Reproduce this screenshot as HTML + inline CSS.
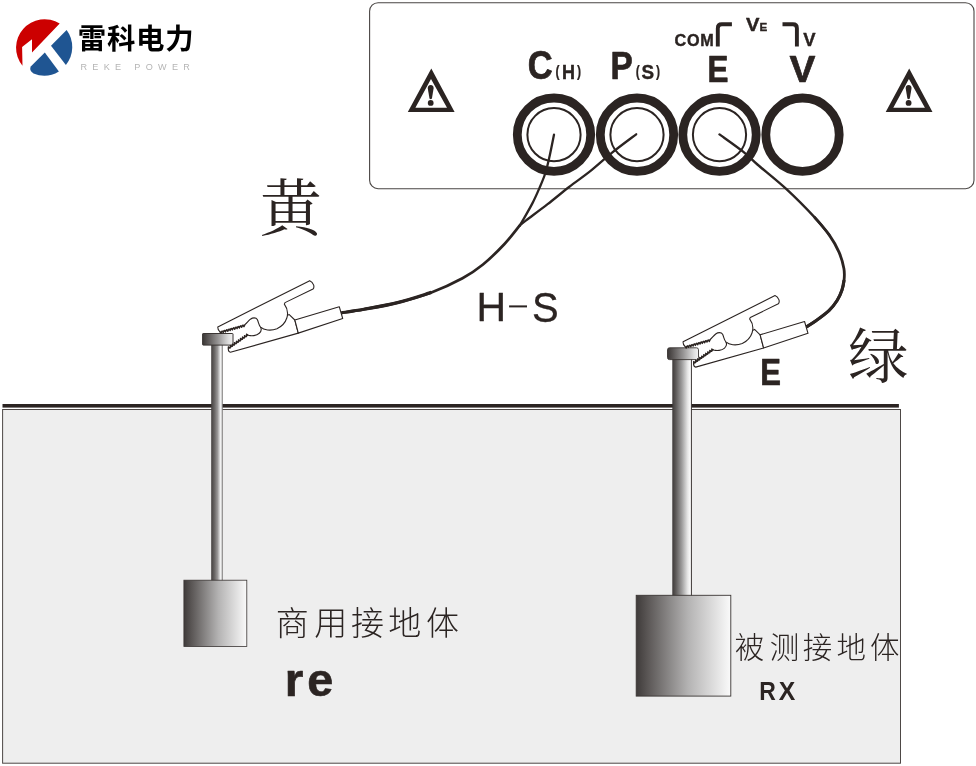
<!DOCTYPE html>
<html lang="zh">
<head>
<meta charset="utf-8">
<title>接地电阻测试接线图</title>
<style>
html,body{margin:0;padding:0;background:#fff;}
body{width:976px;height:766px;overflow:hidden;font-family:"Liberation Sans",sans-serif;}
svg{display:block;position:absolute;left:0;top:0;will-change:transform;}
text{font-family:"Liberation Sans",sans-serif;}
.b{font-weight:bold;}
</style>
</head>
<body>
<svg width="976" height="766" viewBox="0 0 976 766">
<defs>
<linearGradient id="gcap" x1="0" x2="1" y1="0" y2="0"><stop offset="0" stop-color="#3a3635"/><stop offset="0.15" stop-color="#555150"/><stop offset="0.5" stop-color="#959393"/><stop offset="0.85" stop-color="#dedede"/><stop offset="1" stop-color="#f4f4f4"/></linearGradient>
<linearGradient id="gblk" x1="0" x2="1" y1="0" y2="0"><stop offset="0" stop-color="#3f3b3a"/><stop offset="0.12" stop-color="#5a5655"/><stop offset="0.55" stop-color="#b4b3b3"/><stop offset="1" stop-color="#fafafa"/></linearGradient>
<linearGradient id="gstemL" x1="0" x2="1" y1="0" y2="0"><stop offset="0" stop-color="#433f3e"/><stop offset="0.3" stop-color="#6c6968"/><stop offset="0.55" stop-color="#9a9898"/><stop offset="0.72" stop-color="#d4d4d4"/><stop offset="0.81" stop-color="#f4f4f4"/><stop offset="0.89" stop-color="#cfcfcf"/><stop offset="1" stop-color="#696665"/></linearGradient>
<linearGradient id="gstemR" x1="0" x2="1" y1="0" y2="0"><stop offset="0" stop-color="#3d3938"/><stop offset="0.2" stop-color="#605d5c"/><stop offset="0.5" stop-color="#9e9d9d"/><stop offset="0.8" stop-color="#e6e6e6"/><stop offset="0.95" stop-color="#fdfdfd"/><stop offset="1" stop-color="#ffffff"/></linearGradient>
</defs>
<rect x="2.6" y="409.5" width="897.9" height="353.7" fill="#eeeeee" stroke="#4d4745" stroke-width="1"/>
<rect x="2.5" y="404.0" width="896.4" height="3.6" fill="#2b2422"/>
<rect x="369.6" y="2.7" width="604.4" height="186" rx="8.5" ry="8.5" fill="#fff" stroke="#4a4644" stroke-width="1.1"/>
<g fill="#2b2422"><path fill-rule="evenodd" d="M431.3 68.6 L407.8 112 L454.6 112 Z M431 78.9 L415.4 107.7 L447 107.7 Z"/><path d="M430.7 85 C432.7 85 433.8 86.5 433.6 88.5 L432 98 C431.7 99.6 429.7 99.6 429.4 98 L427.8 88.5 C427.6 86.5 428.7 85 430.7 85 Z"/><circle cx="430.7" cy="102.9" r="2.9"/></g>
<g fill="#2b2422"><path fill-rule="evenodd" d="M909.2 68.6 L885.7 112 L932.5 112 Z M908.9 78.9 L893.3 107.7 L924.9 107.7 Z"/><path d="M908.6 85 C910.6 85 911.7 86.5 911.5 88.5 L909.9 98 C909.6 99.6 907.6 99.6 907.3 98 L905.7 88.5 C905.5 86.5 906.6 85 908.6 85 Z"/><circle cx="908.6" cy="102.9" r="2.9"/></g>
<circle cx="554" cy="134.7" r="36.7" fill="#fff" stroke="#2b2422" stroke-width="8.8"/>
<circle cx="554" cy="134.7" r="26.6" fill="none" stroke="#2b2422" stroke-width="2.0"/>
<circle cx="637" cy="134.7" r="36.7" fill="#fff" stroke="#2b2422" stroke-width="8.8"/>
<circle cx="637" cy="134.7" r="26.6" fill="none" stroke="#2b2422" stroke-width="2.0"/>
<circle cx="719.5" cy="134.7" r="36.7" fill="#fff" stroke="#2b2422" stroke-width="8.8"/>
<circle cx="719.5" cy="134.7" r="26.6" fill="none" stroke="#2b2422" stroke-width="2.0"/>
<circle cx="802.5" cy="134.7" r="36.7" fill="#fff" stroke="#2b2422" stroke-width="8.8"/>
<path d="M717.8 46.4 L717.8 28.2 Q717.8 24.2 721.8 24.2 L731.9 24.2" fill="none" stroke="#2b2422" stroke-width="3.9"/>
<path d="M782.5 24.2 L792.9 24.2 Q796.9 24.2 796.9 28.2 L796.9 46.4" fill="none" stroke="#2b2422" stroke-width="3.9"/>
<g fill="none" stroke="#2b2422" stroke-linecap="round" stroke-linejoin="round">
<path d="M554 134.7 C553.28 138.22 551.13 149.42 549.7 155.8 C548.27 162.18 547.12 167.62 545.4 173 C543.68 178.38 541.55 183.08 539.4 188.1 C537.25 193.12 535.27 197.72 532.5 203.1 C529.73 208.48 524.95 216.63 522.8 220.4 C520.65 224.17 520.13 224.82 519.6 225.7" stroke-width="2.3"/>
<path d="M519.6 225.7 C517.08 228.75 510.6 237.53 504.5 244 C498.4 250.47 490 258.8 483 264.5 C476 270.2 471.1 273.55 462.5 278.2 C453.9 282.85 442.22 288.33 431.4 292.4 C420.58 296.47 408.87 299.78 397.6 302.6 C386.33 305.42 373.15 307.6 363.8 309.3 C354.45 311 345.22 312.22 341.5 312.8" stroke-width="2.7"/>
<path d="M431.4 292.4 C425.77 294.1 408.87 299.78 397.6 302.6 C386.33 305.42 373.15 307.6 363.8 309.3 C354.45 311 345.22 312.22 341.5 312.8" stroke-width="3.2" stroke-linecap="butt"/>
<path d="M636.2 134.3 C632.18 137.35 619.7 146.5 612.1 152.6 C604.5 158.7 597.77 165.17 590.6 170.9 C583.43 176.63 576.27 181.45 569.1 187 C561.93 192.55 554.77 198.63 547.6 204.2 C540.43 209.77 530.77 216.82 526.1 220.4 C521.43 223.98 520.68 224.82 519.6 225.7" stroke-width="2.3"/>
<path d="M719.5 134.4 C723.43 137.27 736.78 146.58 743.1 151.6 C749.42 156.62 750.22 158.28 757.4 164.5 C764.58 170.72 776.62 180.05 786.2 188.9 C795.78 197.75 807.73 209.93 814.9 217.6 C822.07 225.27 826.82 232.02 829.2 234.9" stroke-width="2.4"/>
<path d="M814.9 217.6 C817.28 220.48 825.18 229.15 829.2 234.9 C833.22 240.65 836.55 246.5 839 252.1 C841.45 257.7 843.05 263.85 843.9 268.5 C844.75 273.15 844.43 276.38 844.1 280 C843.77 283.62 843.07 286.78 841.9 290.2 C840.73 293.62 839.27 297.08 837.1 300.5 C834.93 303.92 832.48 307.28 828.9 310.7 C825.32 314.12 819.35 318.32 815.6 321 C811.85 323.68 807.93 325.83 806.4 326.8" stroke-width="2.8"/>
<path d="M844.1 280 C843.73 281.7 843.07 286.78 841.9 290.2 C840.73 293.62 839.27 297.08 837.1 300.5 C834.93 303.92 832.48 307.28 828.9 310.7 C825.32 314.12 819.35 318.32 815.6 321 C811.85 323.68 807.93 325.83 806.4 326.8" stroke-width="3.2" stroke-linecap="butt"/>
</g>
<rect x="211.2" y="345" width="11.6" height="236" rx="0" fill="url(#gstemL)" stroke="#3a3533" stroke-width="0"/>
<rect x="202.6" y="333.5" width="30.4" height="11.6" rx="0.5" fill="url(#gcap)" stroke="#3a3533" stroke-width="1.0"/>
<rect x="183.9" y="580.2" width="62.9" height="66.3" rx="0" fill="url(#gblk)" stroke="#3a3533" stroke-width="0.8"/>
<rect x="672.3" y="359" width="19.2" height="237" rx="0" fill="url(#gstemR)" stroke="#3a3533" stroke-width="0"/>
<rect x="690.9" y="359" width="1" height="237" fill="#3a3533"/>
<rect x="667.5" y="347.8" width="31" height="11.8" rx="2" fill="url(#gcap)" stroke="#3a3533" stroke-width="0.9"/>
<rect x="636.2" y="595.3" width="94.6" height="100.8" rx="0" fill="url(#gblk)" stroke="#3a3533" stroke-width="0.9"/>
<g fill="#fff" stroke="#2b2422" stroke-width="1.1" stroke-linejoin="round"><path d="M228.28 349.34 L228.29 346.78 L230.3 347.93 L230.3 345.37 L232.31 346.52 L232.32 343.96 L234.33 345.11 L234.33 342.55 L236.34 343.7 L236.35 341.14 L238.36 342.3 L238.37 339.73 L240.38 340.89 L240.38 338.32 L242.39 339.48 L242.4 336.91 L244.41 338.07 L244.42 335.5 L246.43 336.66 L246.43 334.09 L248.44 335.25 C251.39 336.23 256.31 335.9 259.26 333.28 C261.56 331.31 261.56 329.02 260.57 327.05 L289.26 314.59 L294.84 320 L298.28 333.11 L230.41 352.3 Q228.44 351.97 228.28 349.34 Z"/><path d="M294.84 320 L339.26 306.72 L342.7 318.52 L298.28 333.11 Z"/><path d="M217.79 326.89 L309.75 280.66 Q312.38 281.48 313.69 285.08 Q314.34 287.7 313.03 289.02 L285 302.62 L284.34 304.1 C290.9 312.95 286.8 324.1 276.97 328.69 C270.41 331.31 263.85 330 260.57 327.05 C258.61 325.08 258.61 322.13 257.3 319.51 C255.98 317.21 252.7 317.54 250.41 319.18 C248.11 321.15 246.8 323.11 245.16 324.43 L243.98 326.84 L242.85 325.08 L241.67 327.5 L240.54 325.74 L239.36 328.15 L238.23 326.39 L237.05 328.81 L235.92 327.05 L234.74 329.46 L233.61 327.7 L232.43 330.12 L231.3 328.36 L230.12 330.78 L228.99 329.02 L227.81 331.43 L226.68 329.67 L225.5 332.09 L224.37 330.33 L223.19 332.74 L222.06 330.98 L220.88 333.4 L219.75 331.64 Q217.62 330 217.79 326.89 Z"/><path d="M228.28 349.34 L228.29 346.78 L230.3 347.93 Z M230.3 347.93 L230.3 345.37 L232.31 346.52 Z M232.31 346.52 L232.32 343.96 L234.33 345.11 Z M234.33 345.11 L234.33 342.55 L236.34 343.7 Z M236.34 343.7 L236.35 341.14 L238.36 342.3 Z M238.36 342.3 L238.37 339.73 L240.38 340.89 Z M240.38 340.89 L240.38 338.32 L242.39 339.48 Z M242.39 339.48 L242.4 336.91 L244.41 338.07 Z M244.41 338.07 L244.42 335.5 L246.43 336.66 Z M246.43 336.66 L246.43 334.09 L248.44 335.25 Z M245.16 324.43 L243.98 326.84 L242.85 325.08 Z M242.85 325.08 L241.67 327.5 L240.54 325.74 Z M240.54 325.74 L239.36 328.15 L238.23 326.39 Z M238.23 326.39 L237.05 328.81 L235.92 327.05 Z M235.92 327.05 L234.74 329.46 L233.61 327.7 Z M233.61 327.7 L232.43 330.12 L231.3 328.36 Z M231.3 328.36 L230.12 330.78 L228.99 329.02 Z M228.99 329.02 L227.81 331.43 L226.68 329.67 Z M226.68 329.67 L225.5 332.09 L224.37 330.33 Z M224.37 330.33 L223.19 332.74 L222.06 330.98 Z M222.06 330.98 L220.88 333.4 L219.75 331.64 Z" fill="#2b2422" stroke-width="0.25"/></g>
<g transform="translate(465.3 14.8)"><g fill="#fff" stroke="#2b2422" stroke-width="1.1" stroke-linejoin="round"><path d="M228.28 349.34 L228.29 346.78 L230.3 347.93 L230.3 345.37 L232.31 346.52 L232.32 343.96 L234.33 345.11 L234.33 342.55 L236.34 343.7 L236.35 341.14 L238.36 342.3 L238.37 339.73 L240.38 340.89 L240.38 338.32 L242.39 339.48 L242.4 336.91 L244.41 338.07 L244.42 335.5 L246.43 336.66 L246.43 334.09 L248.44 335.25 C251.39 336.23 256.31 335.9 259.26 333.28 C261.56 331.31 261.56 329.02 260.57 327.05 L289.26 314.59 L294.84 320 L298.28 333.11 L230.41 352.3 Q228.44 351.97 228.28 349.34 Z"/><path d="M294.84 320 L339.26 306.72 L342.7 318.52 L298.28 333.11 Z"/><path d="M217.79 326.89 L309.75 280.66 Q312.38 281.48 313.69 285.08 Q314.34 287.7 313.03 289.02 L285 302.62 L284.34 304.1 C290.9 312.95 286.8 324.1 276.97 328.69 C270.41 331.31 263.85 330 260.57 327.05 C258.61 325.08 258.61 322.13 257.3 319.51 C255.98 317.21 252.7 317.54 250.41 319.18 C248.11 321.15 246.8 323.11 245.16 324.43 L243.98 326.84 L242.85 325.08 L241.67 327.5 L240.54 325.74 L239.36 328.15 L238.23 326.39 L237.05 328.81 L235.92 327.05 L234.74 329.46 L233.61 327.7 L232.43 330.12 L231.3 328.36 L230.12 330.78 L228.99 329.02 L227.81 331.43 L226.68 329.67 L225.5 332.09 L224.37 330.33 L223.19 332.74 L222.06 330.98 L220.88 333.4 L219.75 331.64 Q217.62 330 217.79 326.89 Z"/><path d="M228.28 349.34 L228.29 346.78 L230.3 347.93 Z M230.3 347.93 L230.3 345.37 L232.31 346.52 Z M232.31 346.52 L232.32 343.96 L234.33 345.11 Z M234.33 345.11 L234.33 342.55 L236.34 343.7 Z M236.34 343.7 L236.35 341.14 L238.36 342.3 Z M238.36 342.3 L238.37 339.73 L240.38 340.89 Z M240.38 340.89 L240.38 338.32 L242.39 339.48 Z M242.39 339.48 L242.4 336.91 L244.41 338.07 Z M244.41 338.07 L244.42 335.5 L246.43 336.66 Z M246.43 336.66 L246.43 334.09 L248.44 335.25 Z M245.16 324.43 L243.98 326.84 L242.85 325.08 Z M242.85 325.08 L241.67 327.5 L240.54 325.74 Z M240.54 325.74 L239.36 328.15 L238.23 326.39 Z M238.23 326.39 L237.05 328.81 L235.92 327.05 Z M235.92 327.05 L234.74 329.46 L233.61 327.7 Z M233.61 327.7 L232.43 330.12 L231.3 328.36 Z M231.3 328.36 L230.12 330.78 L228.99 329.02 Z M228.99 329.02 L227.81 331.43 L226.68 329.67 Z M226.68 329.67 L225.5 332.09 L224.37 330.33 Z M224.37 330.33 L223.19 332.74 L222.06 330.98 Z M222.06 330.98 L220.88 333.4 L219.75 331.64 Z" fill="#2b2422" stroke-width="0.25"/></g></g>
<g>
<path fill="#cc0000" d="M59.7 23.6 L32 52.5 L32 39.3 L22.1 47.1 L22.5 65.8 A28.5 28.5 0 0 1 59.7 23.6 Z"/>
<path fill="#1f5592" d="M51 45.7 L66.6 30 A28.5 28.5 0 0 1 65.9 65 Z"/>
<path fill="#1f5592" d="M44.8 52.6 L58.9 71.5 A28.5 28.5 0 0 1 33.5 73.6 Q28.5 70 31 66.3 Z"/>
</g>
<text x="77.75 106.9 136.05 165.2" y="49.06" font-size="28.4" font-weight="bold" fill="#000" style="font-family:'Liberation Sans','Noto Sans CJK SC',sans-serif;">雷科电力</text>
<text x="80.5" y="70" font-size="9.1" fill="#b5b5b5" letter-spacing="5.3">REKE POWER</text>
<text x="259.66" y="231.49" font-size="62" fill="#2b2422" style="font-family:'Liberation Serif','Noto Serif CJK SC',serif;">黄</text>
<text x="847.88" y="377.77" font-size="60.5" fill="#2b2422" style="font-family:'Liberation Serif','Noto Serif CJK SC',serif;">绿</text>
<text x="275.66 314.34 350.92 388.26 426.09" y="635.3" font-size="33" font-weight="300" fill="#2b2422" style="font-family:'Liberation Sans','Noto Sans CJK SC',sans-serif;">商用接地体</text>
<text x="734.74 769.77 802.84 836.42 869.94" y="658.2" font-size="29.5" font-weight="300" fill="#2b2422" style="font-family:'Liberation Sans','Noto Sans CJK SC',sans-serif;">被测接地体</text>
<text transform="translate(527.8 79.2) scale(0.9200 1.0650)" font-size="37.5" font-weight="bold" stroke="#2b2422" stroke-width="0.7" stroke-linejoin="round" fill="#2b2422">C</text>
<text transform="translate(555.6 77.3) scale(0.7400 1.0000)" font-size="16.5" font-weight="bold" stroke="#2b2422" stroke-width="0.25" stroke-linejoin="round" fill="#2b2422">(</text>
<text transform="translate(562 78.9) scale(0.9000 1.0000)" font-size="20" font-weight="bold" stroke="#2b2422" stroke-width="0.4" stroke-linejoin="round" fill="#2b2422">H</text>
<text transform="translate(576.9 77.3) scale(0.7400 1.0000)" font-size="16.5" font-weight="bold" stroke="#2b2422" stroke-width="0.25" stroke-linejoin="round" fill="#2b2422">)</text>
<text transform="translate(610.6 78.8) scale(0.8650 1.0000)" font-size="38.6" font-weight="bold" stroke="#2b2422" stroke-width="0.7" stroke-linejoin="round" fill="#2b2422">P</text>
<text transform="translate(635.8 77.3) scale(0.7400 1.0000)" font-size="16.5" font-weight="bold" stroke="#2b2422" stroke-width="0.25" stroke-linejoin="round" fill="#2b2422">(</text>
<text transform="translate(641.5 79.1) scale(0.9300 1.0000)" font-size="20.3" font-weight="bold" stroke="#2b2422" stroke-width="0.4" stroke-linejoin="round" fill="#2b2422">S</text>
<text transform="translate(655.9 77.3) scale(0.7400 1.0000)" font-size="16.5" font-weight="bold" stroke="#2b2422" stroke-width="0.25" stroke-linejoin="round" fill="#2b2422">)</text>
<text transform="translate(707.5 81.9) scale(0.8650 1.0000)" font-size="36.3" font-weight="bold" stroke="#2b2422" stroke-width="0.7" stroke-linejoin="round" fill="#2b2422">E</text>
<text transform="translate(789.5 81.9) scale(1.0700 1.0000)" font-size="36.3" font-weight="bold" stroke="#2b2422" stroke-width="0.7" stroke-linejoin="round" fill="#2b2422">V</text>
<text x="674.4" y="46.3" font-size="16.2" font-weight="bold" stroke="#2b2422" stroke-width="0.4" stroke-linejoin="round" letter-spacing="0.8" fill="#2b2422">COM</text>
<text transform="translate(745.9 31.3) scale(1.1100 1.0000)" font-size="18.2" font-weight="bold" stroke="#2b2422" stroke-width="0.4" stroke-linejoin="round" fill="#2b2422">V</text>
<text transform="translate(759.6 31.3) scale(1.1000 1.0000)" font-size="10.6" font-weight="bold" stroke="#2b2422" stroke-width="0.3" stroke-linejoin="round" fill="#2b2422">E</text>
<text transform="translate(803.3 45.7) scale(1.0500 1.0000)" font-size="17.6" font-weight="bold" stroke="#2b2422" stroke-width="0.4" stroke-linejoin="round" fill="#2b2422">V</text>
<text x="476.5" y="320.9" font-size="41" stroke="#2b2422" stroke-width="0.3" stroke-linejoin="round" fill="#2b2422">H</text>
<rect x="509.1" y="305.4" width="17.9" height="2" fill="#2b2422"/>
<text transform="translate(532 321.5) scale(0.9250 1.0000)" font-size="43.2" stroke="#2b2422" stroke-width="0.3" stroke-linejoin="round" fill="#2b2422">S</text>
<text transform="translate(760.3 384.6) scale(0.8400 1.0000)" font-size="37" font-weight="bold" stroke="#2b2422" stroke-width="0.7" stroke-linejoin="round" fill="#2b2422">E</text>
<text transform="translate(284.8 695.9) scale(1.0500 1.0000)" font-size="45.4" font-weight="bold" stroke="#2b2422" stroke-width="0.6" stroke-linejoin="round" fill="#2b2422">r</text>
<text transform="translate(307.2 695.9) scale(1.0300 1.0000)" font-size="45.4" font-weight="bold" stroke="#2b2422" stroke-width="0.6" stroke-linejoin="round" fill="#2b2422">e</text>
<text transform="translate(759.2 700) scale(0.8900 1.0000)" font-size="25.8" font-weight="bold" fill="#2b2422">R</text>
<text transform="translate(778.8 700) scale(0.9600 1.0000)" font-size="25.8" font-weight="bold" fill="#2b2422">X</text>
</svg>
</body>
</html>
